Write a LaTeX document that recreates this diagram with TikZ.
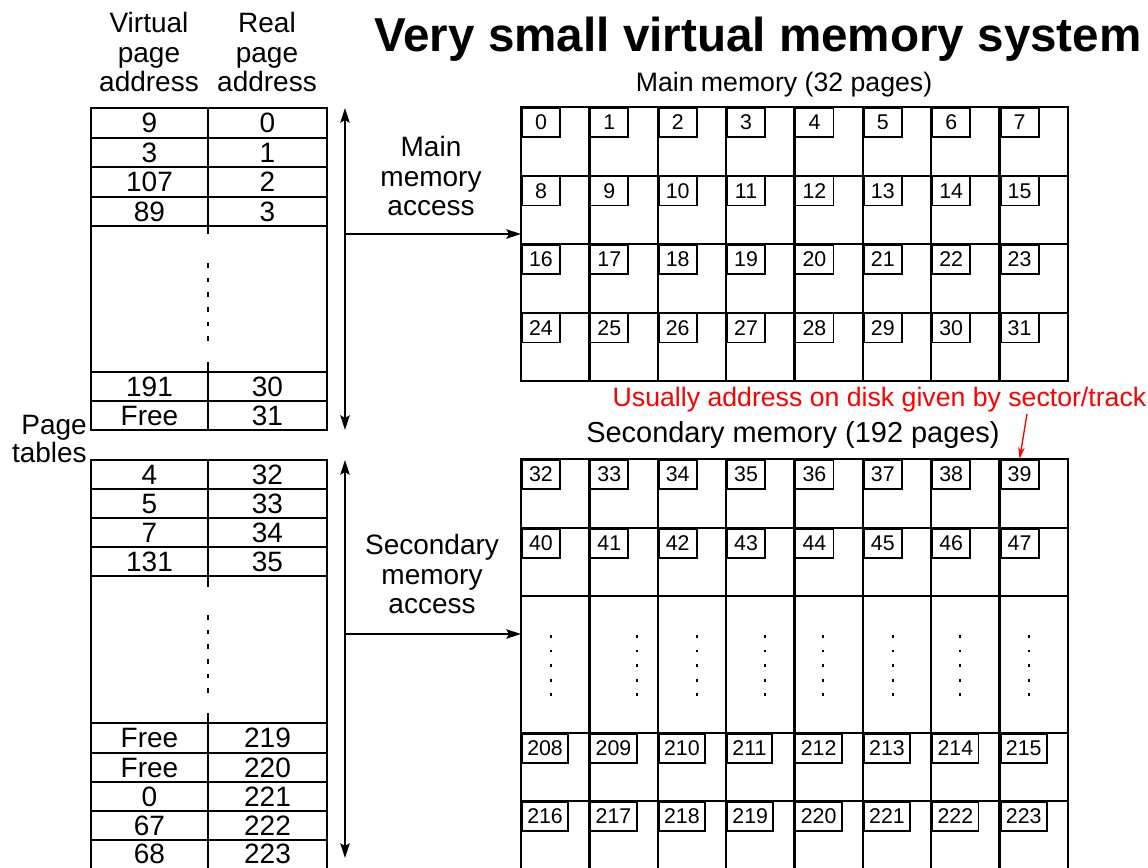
\documentclass[tikz,border=0pt]{standalone}
\usepackage{fontspec}
\setmainfont{Liberation Sans}
\usetikzlibrary{arrows.meta, positioning, calc}
\definecolor{warnred}{RGB}{255, 0, 0}

\begin{document}
\begin{tikzpicture}[
    x=0.75pt, y=-0.75pt,
    frame/.style={line width=1.8pt},
    gapline/.style={line width=1.8pt, dash pattern=on 3.5pt off 7.5pt},
    dotline/.style={line width=1.5pt, dash pattern=on 2.2pt off 8.7pt},
    pagebox/.style={draw, line width=1.4pt, anchor=north west, minimum width=28.5pt, minimum height=21.75pt, inner xsep=4pt, inner ysep=0pt, font=\fontsize{16}{16}\selectfont},
    entry/.style={inner sep=0pt, font=\fontsize{21}{21}\selectfont},
    caption/.style={inner sep=0pt, anchor=base, font=\fontsize{20}{20}\selectfont},
    heading/.style={align=center, inner sep=0pt, font=\fontsize{21}{22}\selectfont},
    access/.style={line width=1.5pt, {Stealth[length=11pt, width=7pt, inset=2pt]}-{Stealth[length=11pt, width=7pt, inset=2pt]}},
    feed/.style={line width=1.5pt, -{Stealth[length=11pt, width=7pt, inset=2pt]}}
]
    \useasboundingbox (0,0) rectangle (1148,867);

    % Title and headings
    \node[font=\bfseries\fontsize{35.7}{40}\selectfont, anchor=base] (title) at (758,51) {Very small virtual memory system};
    \node[heading] (virthead) at (149,52) {Virtual\\page\\address};
    \node[heading] (realhead) at (267,52) {Real\\page\\address};
    \node[heading, align=right, anchor=east, font=\fontsize{21}{19.5}\selectfont] (pagetab) at (87,439) {Page\\tables};

    % Page table for main memory
    \draw[frame] (91,108) rectangle (327,430);
    \foreach \y in {138,167,197,226,372,401}
        \draw[frame] (91,\y) -- (327,\y);
    \draw[frame] (208,108) -- (208,234);
    \draw[gapline] (208,263) -- (208,345);
    \draw[frame] (208,362) -- (208,430);
    \foreach \virt/\real/\y [count=\i] in {9/0/123, 3/1/152.5, 107/2/182, 89/3/211.5, 191/30/386.5, Free/31/415.5} {
        \node[entry] (vm\i) at (149.5,\y) {\virt};
        \node[entry] (rm\i) at (267.5,\y) {\real};
    }

    % Page table for secondary memory
    \draw[frame] (91,460) rectangle (327,870);
    \foreach \y in {489,518,547,576,723,753,782,811,840}
        \draw[frame] (91,\y) -- (327,\y);
    \draw[frame] (208,460) -- (208,587);
    \draw[gapline] (208,615) -- (208,697);
    \draw[frame] (208,713) -- (208,870);
    \foreach \virt/\real/\y [count=\i] in {4/32/474.5, 5/33/503.5, 7/34/532.5, 131/35/561.5, Free/219/738, Free/220/768, 0/221/797, 67/222/826, 68/223/853.5} {
        \node[entry] (vs\i) at (149.5,\y) {\virt};
        \node[entry] (rs\i) at (267.5,\y) {\real};
    }

    % Access arrows
    \coordinate (mtop) at (345,108);
    \coordinate (mbot) at (345,430);
    \coordinate (mtap) at (345,234);
    \coordinate (mgrid) at (521,234);
    \draw[access] (mtop) -- (mbot);
    \draw[feed] (mtap) -- (mgrid);
    \node[heading] (mainacc) at (431,176) {Main\\memory\\access};

    \coordinate (stop) at (345,460);
    \coordinate (sbot) at (345,858);
    \coordinate (stap) at (345,634);
    \coordinate (sgrid) at (521,634);
    \draw[access] (stop) -- (sbot);
    \draw[feed] (stap) -- (sgrid);
    \node[heading] (secacc) at (432,574) {Secondary\\memory\\access};

    % Main memory
    \node[caption] (maincap) at (784,91) {Main memory (32 pages)};
    \draw[frame] (521,107) rectangle (1068,381);
    \foreach \c in {1,...,7}
        \draw[frame] (521+68.375*\c,107) -- (521+68.375*\c,381);
    \foreach \y in {176,244,313}
        \draw[frame] (521,\y) -- (1068,\y);
    \foreach \r in {0,...,3}
        \foreach \c in {0,...,7} {
            \pgfmathtruncatemacro{\n}{8*\r+\c}
            \node[pagebox] (m\n) at (521+68.375*\c,107+68.5*\r) {\n};
        }

    % Secondary memory
    \node[caption, font=\fontsize{21.7}{21.7}\selectfont] (seccap) at (793,442) {Secondary memory (192 pages)};
    \draw[frame] (521,459) rectangle (1068,870);
    \foreach \c in {1,...,7}
        \draw[frame] (521+68.375*\c,459) -- (521+68.375*\c,870);
    \foreach \y in {528,596,733,801}
        \draw[frame] (521,\y) -- (1068,\y);
    \foreach \y/\first in {459/32, 528/40, 733/208, 801/216}
        \foreach \c in {0,...,7} {
            \pgfmathtruncatemacro{\n}{\first+\c}
            \node[pagebox] (s\n) at (521+68.375*\c,\y) {\n};
        }
    \foreach \dx [count=\c from 0] in {30,48,39,39,28,30,29,29}
        \draw[dotline] (521+68.375*\c+\dx,635) -- ++(0,61);

    % Disk note
    \node[caption, text=warnred] (diskcap) at (879.5,406) {Usually address on disk given by sector/track};
    \coordinate (redtail) at (1027,414);
    \draw[warnred, line width=1pt, -{Stealth[length=9pt, width=5pt]}] (redtail) -- (s39.north);
\end{tikzpicture}
\end{document}
